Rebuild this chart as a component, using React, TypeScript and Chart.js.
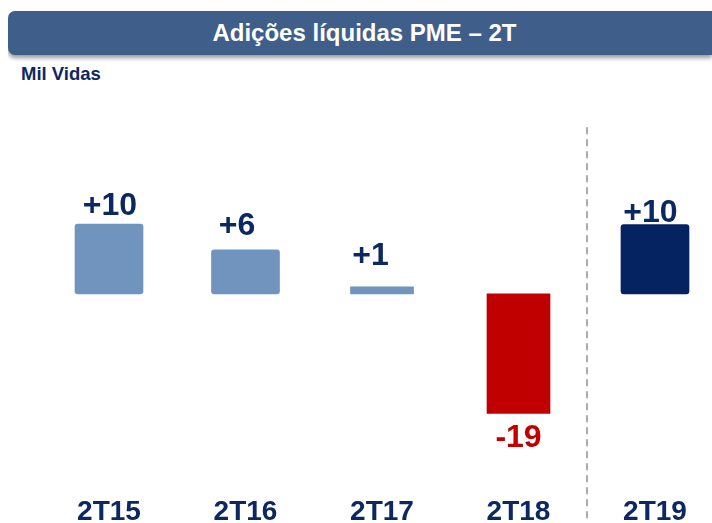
import React, { useEffect, useRef } from "react";
import { Chart, registerables } from "chart.js";

Chart.register(...registerables);

// ---- data ----
const categories = ["2T15", "2T16", "2T17", "2T18", "2T19"];
const values = [10.8, 6.8, 1.1, -18.5, 10.7];
const valueLabels = ["+10", "+6", "+1", "-19", "+10"];
const titleText = "Adições líquidas PME – 2T";
const unitText = "Mil Vidas";

// ---- styles ----
const FONT = '"Liberation Sans", Arial, Helvetica, sans-serif';
const NAVY_TEXT = "#0C2862";
const barColors = ["#7094BE", "#7094BE", "#7094BE", "#C00000", "#042360"];
const barWidths = [68, 68, 63, 63, 68];
const barRadius = [3, 3, 0, 0, 3];
const labelColors = [NAVY_TEXT, NAVY_TEXT, NAVY_TEXT, "#C00000", NAVY_TEXT];
// label nudges: [dx, gap from bar end to text baseline]
const labelNudges = [
  [1, 9],
  [-8.5, 15],
  [-11.5, 22],
  [0, 34],
  [-4.5, 3],
];
const separatorAt = 3.5;
const separatorTop = 25.8;

export default function App() {
  const canvasRef = useRef<HTMLCanvasElement | null>(null);

  useEffect(() => {
    const prevMargin = document.body.style.margin;
    document.body.style.margin = "8px 0 0 8px";

    const canvas = canvasRef.current;
    if (!canvas) return;

    const widths = Array.from(new Set(barWidths));
    const datasets = widths.map((w) => {
      const idx = categories.map((_, i) => i).filter((i) => barWidths[i] === w);
      return {
        data: idx.map((i) => ({ x: i, y: values[i] })),
        backgroundColor: idx.map((i) => barColors[i]),
        borderRadius: idx.map((i) => barRadius[i]),
        borderSkipped: false,
        barThickness: w,
        grouped: false,
        borderWidth: 0,
      };
    });

    const separatorPlugin = {
      id: "separator",
      beforeDatasetsDraw(chart: any) {
        const { ctx } = chart;
        const xs = chart.scales.x;
        const ys = chart.scales.y;
        const x = Math.round(xs.getPixelForValue(separatorAt));
        ctx.save();
        ctx.strokeStyle = "#ABABAB";
        ctx.lineWidth = 2;
        ctx.setLineDash([7, 5]);
        ctx.beginPath();
        ctx.moveTo(x, ys.getPixelForValue(separatorTop));
        ctx.lineTo(x, chart.height);
        ctx.stroke();
        ctx.restore();
      },
    };

    const labelPlugin = {
      id: "valueLabels",
      afterDatasetsDraw(chart: any) {
        const { ctx } = chart;
        const xs = chart.scales.x;
        const ys = chart.scales.y;
        ctx.save();
        ctx.font = `bold 32px ${FONT}`;
        ctx.textAlign = "center";
        ctx.textBaseline = "alphabetic";
        values.forEach((v, i) => {
          const [dx, gap] = labelNudges[i];
          const x = xs.getPixelForValue(i) + dx;
          const yv = ys.getPixelForValue(v);
          const y = v >= 0 ? yv - gap : yv + gap;
          ctx.fillStyle = labelColors[i];
          ctx.fillText(valueLabels[i], x, y);
        });
        ctx.restore();
      },
    };

    const chart = new Chart(canvas, {
      type: "bar",
      data: { datasets: datasets as any },
      plugins: [separatorPlugin, labelPlugin],
      options: {
        animation: false,
        responsive: true,
        maintainAspectRatio: false,
        layout: { padding: 0 },
        plugins: {
          legend: { display: false },
          tooltip: { enabled: false },
          title: { display: false },
        },
        scales: {
          x: {
            type: "linear",
            offset: false,
            min: -0.74,
            max: 4.359,
            grid: { display: false, drawTicks: false, offset: false },
            border: { display: false },
            ticks: {
              stepSize: 1,
              autoSkip: false,
              includeBounds: false,
              maxRotation: 0,
              padding: 0,
              color: NAVY_TEXT,
              font: { family: FONT, size: 28, weight: "bold", lineHeight: 0.8 },
              callback: (v: any) =>
                Number.isInteger(v) && categories[v] !== undefined ? categories[v] : "",
            },
          },
          y: {
            display: false,
            min: -32,
            max: 30,
          },
        },
      } as any,
    });

    return () => {
      chart.destroy();
      document.body.style.margin = prevMargin;
    };
  }, []);

  return (
    <div style={{ position: "relative", width: 704, height: 515 }}>
      <div
        style={{
          position: "absolute",
          left: 0,
          top: 3,
          width: 704,
          height: 44,
          background: "#3F5F8A",
          borderRadius: "7px 0 0 7px",
          boxShadow: "0 3px 4px rgba(0,0,0,0.4)",
          color: "#FFFFFF",
          fontFamily: FONT,
          fontWeight: "bold",
          fontSize: 24,
          lineHeight: "44px",
          textAlign: "center",
          paddingLeft: 9,
          boxSizing: "border-box",
          whiteSpace: "nowrap",
        }}
      >
        {titleText}
      </div>
      <div
        style={{
          position: "absolute",
          left: 13,
          top: 57,
          fontFamily: FONT,
          fontWeight: "bold",
          fontSize: 18.5,
          lineHeight: "18px",
          color: NAVY_TEXT,
          whiteSpace: "nowrap",
        }}
      >
        {unitText}
      </div>
      <div style={{ position: "absolute", left: 0, top: 92, width: 696, height: 423 }}>
        <canvas ref={canvasRef} />
      </div>
    </div>
  );
}
